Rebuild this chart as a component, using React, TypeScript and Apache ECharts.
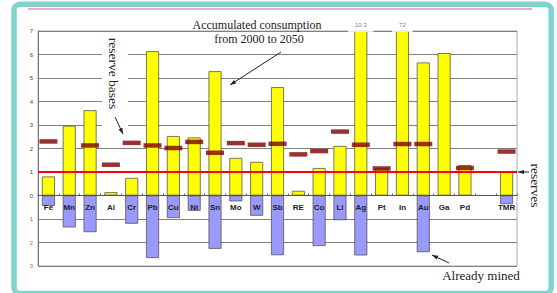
import React, { useEffect, useRef } from 'react';
import * as echarts from 'echarts';

const categories = ['Fe', 'Mn', 'Zn', 'Al', 'Cr', 'Pb', 'Cu', 'Ni', 'Sn', 'Mo', 'W', 'Sb', 'RE', 'Co', 'Li', 'Ag', 'Pt', 'In', 'Au', 'Ga', 'Pd', '', 'TMR'];
const consumption = [0.81, 2.97, 3.63, 0.14, 0.75, 6.14, 2.53, 2.47, 5.29, 1.6, 1.43, 4.61, 0.2, 1.17, 2.11, 10.3, 1.15, 72, 5.66, 6.06, 1.29, null, 1.0];
const alreadyMined = [-0.44, -1.36, -1.56, 0, -1.2, -2.66, -0.96, -0.65, -2.27, -0.25, -0.86, -2.54, null, -2.15, -1.05, -2.55, null, null, -2.41, null, null, null, -0.37];
const reserveBases = [2.3, null, 2.13, 1.31, 2.24, 2.13, 2.02, 2.28, 1.82, 2.23, 2.16, 2.2, 1.75, 1.89, 2.72, 2.16, 1.15, 2.19, 2.19, null, 1.17, null, 1.87];
const reservesLevel = 1;
const yMin = -3;
const yMax = 7;

const GRID_TOP = 31;
const GRID_BOTTOM = 27;
const CHART_H = 293;

function arrow(x1: number, y1: number, x2: number, y2: number, size = 6) {
  const a = Math.atan2(y2 - y1, x2 - x1);
  const bx = x2 - size * Math.cos(a);
  const by = y2 - size * Math.sin(a);
  const w = size * 0.35;
  return [
    { type: 'line', z: 20, shape: { x1, y1, x2, y2 }, style: { stroke: '#222', lineWidth: 1 } },
    {
      type: 'polygon', z: 20,
      shape: { points: [[x2, y2], [bx + w * Math.sin(a), by - w * Math.cos(a)], [bx - w * Math.sin(a), by + w * Math.cos(a)]] },
      style: { fill: '#222' },
    },
  ];
}

export default function App() {
  const ref = useRef<HTMLDivElement>(null);
  useEffect(() => {
    if (!ref.current) return;
    const chart = echarts.init(ref.current, undefined, { renderer: 'svg' });
    const serif = '"Liberation Serif", "Times New Roman", serif';
    const offScale = consumption
      .map((v, i) => (v !== null && v > yMax ? { value: [categories[i], yMax], real: v } : null))
      .filter((d) => d !== null) as any[];
    // move the category axis up to the zero line
    const gridH = CHART_H - GRID_TOP - GRID_BOTTOM;
    const zeroOffset = -gridH * (0 - yMin) / (yMax - yMin);
    chart.setOption({
      animation: false,
      backgroundColor: '#ffffff',
      grid: { left: 38, right: 40, top: GRID_TOP, bottom: GRID_BOTTOM, show: true, borderColor: '#aaaaaa', borderWidth: 1, backgroundColor: 'transparent' },
      xAxis: {
        type: 'category',
        data: categories,
        z: 6,
        offset: zeroOffset,
        axisLine: { onZero: false, lineStyle: { color: '#555', width: 1 } },
        axisTick: { show: true, inside: true, length: 2, lineStyle: { color: '#666' } },
        axisLabel: { margin: 8, fontSize: 8, fontWeight: 'bold', color: '#222', fontFamily: '"Liberation Sans", Arial, sans-serif', interval: 0 },
        splitLine: { show: false },
      },
      yAxis: {
        type: 'value',
        min: yMin,
        max: yMax,
        interval: 1,
        axisLine: { show: true, lineStyle: { color: '#777' } },
        axisTick: { show: false },
        splitLine: { show: true, lineStyle: { color: '#808080', width: 1 } },
        axisLabel: {
          margin: 5,
          fontSize: 6,
          color: '#444',
          fontFamily: '"Liberation Sans", Arial, sans-serif',
          formatter: (v: number) => (v < 0 ? `{neg|${Math.abs(v)}}` : `${v}`),
          rich: { neg: { color: '#e04848', fontSize: 6 } },
        },
      },
      series: [
        {
          name: 'Accumulated consumption',
          type: 'bar',
          data: consumption,
          barWidth: 13,
          barGap: '-100%',
          itemStyle: { color: '#ffff00', borderColor: '#555', borderWidth: 0.8 },
          z: 2,
        },
        {
          name: 'Already mined',
          type: 'bar',
          data: alreadyMined,
          barWidth: 13,
          barGap: '-100%',
          itemStyle: { color: '#9999ff', borderColor: '#555', borderWidth: 0.8 },
          z: 2,
        },
        {
          name: 'Reserve bases',
          type: 'scatter',
          data: reserveBases,
          symbol: 'rect',
          symbolSize: [18, 4.5],
          itemStyle: { color: '#7f0000' },
          z: 4,
          markLine: {
            silent: true,
            symbol: 'none',
            label: { show: false },
            lineStyle: { color: '#ff0000', width: 2, type: 'solid' },
            data: [{ yAxis: reservesLevel }],
          },
        },
        {
          name: 'off scale',
          type: 'scatter',
          data: offScale,
          symbolSize: 0,
          clip: false,
          z: 5,
          label: {
            show: true,
            position: 'top',
            distance: -1,
            formatter: (p: any) => String(p.data.real),
            fontSize: 6,
            color: '#555',
            fontFamily: '"Liberation Sans", Arial, sans-serif',
            backgroundColor: '#ffffff',
            padding: [2, 7, 4, 7],
          },
        },
      ],
      graphic: [
        { type: 'rect', z: 0, shape: { x: 14, y: 4.2, width: 537.2, height: 289.3, r: 6 }, style: { fill: 'none', stroke: '#7fd4cd', lineWidth: 5.5 } },
        { type: 'line', z: 0, shape: { x1: 28, y1: 9, x2: 532, y2: 9 }, style: { stroke: '#f7a6c8', lineWidth: 2 } },
        { type: 'rect', z: 1, shape: { x: 102, y: 33, width: 26, height: 106 }, style: { fill: '#ffffff' } },
        { type: 'text', z: 20, x: 257, y: 25, style: { text: 'Accumulated consumption', font: `12px ${serif}`, fill: '#222', align: 'center', verticalAlign: 'middle' } },
        { type: 'text', z: 20, x: 259, y: 39, style: { text: 'from 2000 to 2050', font: `12px ${serif}`, fill: '#222', align: 'center', verticalAlign: 'middle' } },
        { type: 'text', z: 20, x: 113, y: 73.5, rotation: -Math.PI / 2, style: { text: 'reserve bases', font: `13.5px ${serif}`, fill: '#222', align: 'center', verticalAlign: 'middle' } },
        { type: 'text', z: 20, x: 535, y: 185.5, rotation: -Math.PI / 2, style: { text: 'reserves', font: `13.5px ${serif}`, fill: '#222', align: 'center', verticalAlign: 'middle' } },
        { type: 'text', z: 20, x: 481, y: 275, style: { text: 'Already mined', font: `13px ${serif}`, fill: '#222', align: 'center', verticalAlign: 'middle' } },
        ...arrow(281, 52, 230, 85),
        ...arrow(115, 117, 123, 134),
        ...arrow(529, 172, 518, 172),
        ...arrow(449, 263, 432, 255),
      ],
    });
    return () => chart.dispose();
  }, []);
  return <div ref={ref} style={{ position: 'fixed', left: 0, top: 0, width: 557, height: 293 }} />;
}
